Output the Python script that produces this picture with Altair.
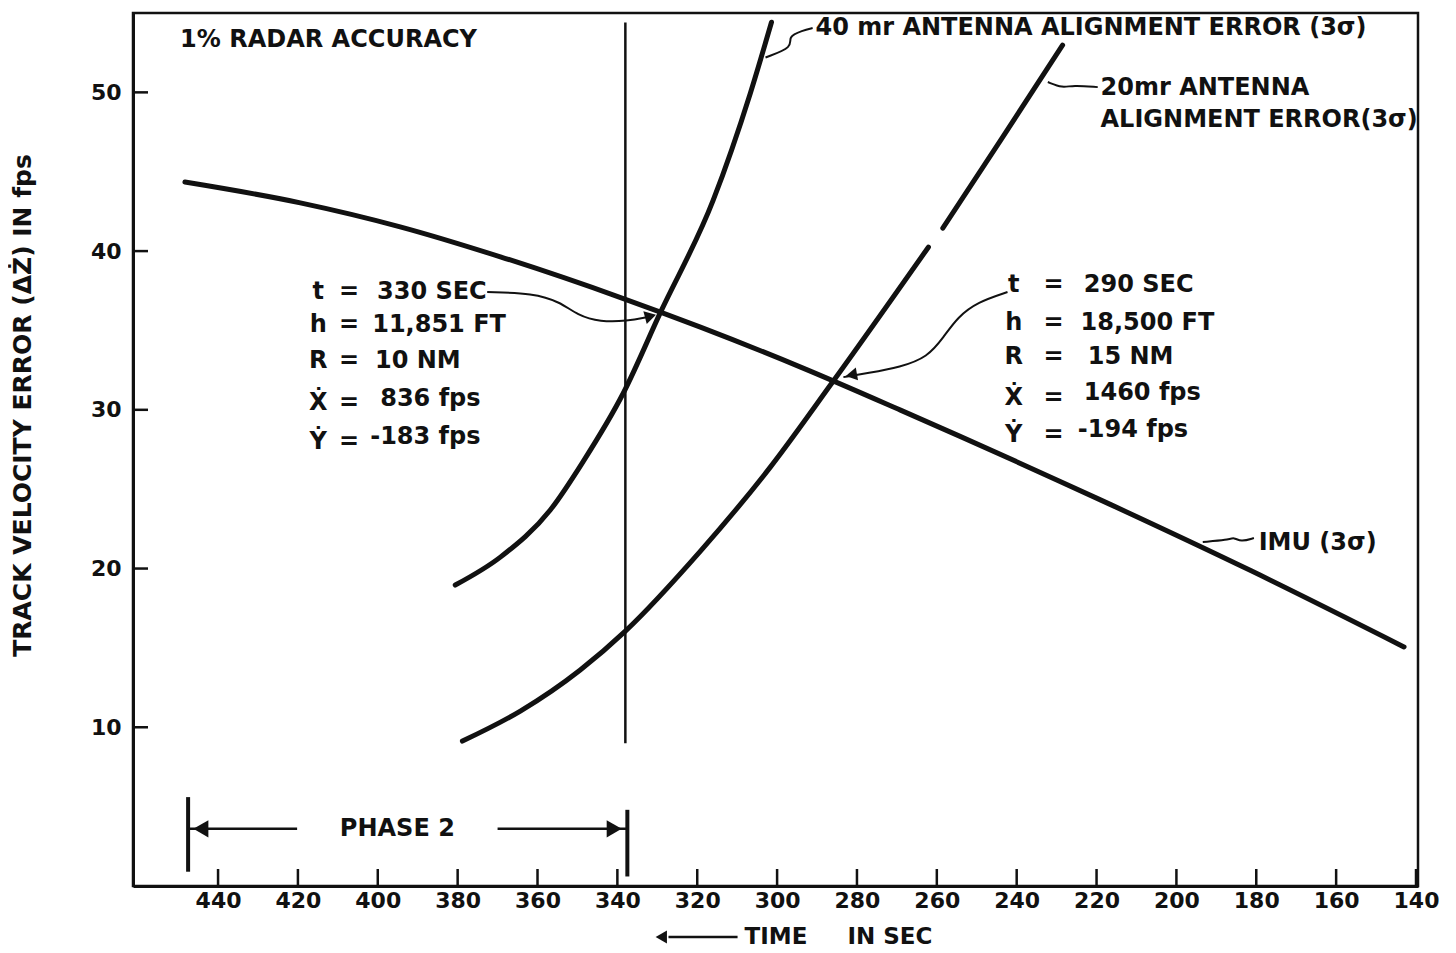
import altair as alt
import pandas as pd

FONT = "DejaVu Sans"
INK = "#111111"

# ---------------- data ----------------
# IMU (3 sigma) curve: time (s), track velocity error (fps)
imu_t = [448.3, 419.4, 394.4, 369.3, 338.5, 319.2, 294.1, 269.1, 218.9, 181.4, 143.0]
imu_v = [44.35, 43.04, 41.53, 39.64, 37.01, 35.21, 32.69, 29.98, 24.31, 19.87, 15.06]

# 40 mr antenna alignment error (3 sigma)
a40_t = [380.6, 369.3, 356.8, 348.5, 338.5, 329.3, 316.0, 306.7, 301.4]
a40_v = [18.96, 20.72, 23.69, 26.77, 31.06, 36.09, 43.21, 49.95, 54.42]

# 20 mr antenna alignment error (3 sigma) - drawn with a small break
a20a_t = [378.8, 364.3, 349.3, 338.0, 319.2, 301.7, 286.1, 262.1]
a20a_v = [9.13, 11.02, 13.61, 16.06, 21.10, 26.39, 31.75, 40.25]
a20b_t = [258.5, 244.0, 228.5]
a20b_v = [41.45, 46.99, 52.98]

# end of phase 2 marker line
marker_t = [338.0]
marker_v = [9.0]
marker_v2 = [54.4]

# axis ticks
x_ticks = [440, 420, 400, 380, 360, 340, 320, 300, 280, 260, 240, 220, 200, 180, 160, 140]
y_ticks = [10, 20, 30, 40, 50]

# phase 2 bracket
phase_bar_t = [447.5, 337.5]
phase_bar_v = [0.9, 0.6]
phase_bar_v2 = [5.6, 4.8]
phase_shaft_t = [447.5, 370.0]
phase_shaft_t2 = [420.2, 337.5]
phase_shaft_v = [3.6, 3.6]

# leader lines (label -> curve)
lead_330_t = [372.6, 361.1, 354.3, 350.0, 344.3, 337.5, 332.5]
lead_330_v = [37.42, 37.35, 36.79, 35.97, 35.53, 35.59, 35.84]
lead_290_t = [242.3, 249.8, 254.8, 258.3, 262.3, 269.1, 277.3, 283.4]
lead_290_v = [37.42, 36.79, 35.84, 34.58, 33.32, 32.69, 32.31, 32.06]
lead_40_t = [302.9, 295.9, 297.4, 293.6, 291.1]
lead_40_v = [52.2, 52.85, 53.5, 53.9, 54.05]
lead_20_t = [232.2, 228.5, 226.0, 219.7]
lead_20_v = [50.65, 50.27, 50.46, 50.33]
lead_imu_t = [193.4, 187.1, 185.6, 183.9, 180.6]
lead_imu_v = [21.67, 21.8, 21.98, 21.67, 21.92]

# arrow heads
head_t = [444.3, 340.8, 331.7, 281.4]
head_v = [3.6, 3.6, 35.9, 32.2]
head_shape = ["triangle-left", "triangle-right", "triangle-right", "triangle-left"]
head_angle = [0, 0, 345, 350]
head_size = [300, 300, 170, 170]

# left-aligned labels
lab_text = ["1% RADAR ACCURACY", "40 mr  ANTENNA ALIGNMENT ERROR (3σ)",
            "20mr ANTENNA", "ALIGNMENT ERROR(3σ)", "IMU (3σ)",
            "330 SEC", "11,851 FT", "10 NM", "836 fps", "-183 fps",
            "290 SEC", "18,500 FT", "15 NM", "1460 fps", "-194 fps"]
lab_t = [449.5, 290.4, 219.0, 219.0, 179.4,
         400.2, 401.4, 400.7, 399.4, 401.9,
         223.2, 224.0, 222.2, 223.2, 224.7]
lab_v = [53.3, 54.05, 50.27, 48.25, 21.6,
         37.42, 35.34, 33.1, 30.7, 28.3,
         37.86, 35.46, 33.32, 31.06, 28.72]

# centred labels
cen_text = ["t", "h", "R", "Ẋ", "Ẏ", "=", "=", "=", "=", "=",
            "t", "h", "R", "Ẋ", "Ẏ", "=", "=", "=", "=", "=", "PHASE 2"]
cen_t = [414.9] * 5 + [407.2] * 5 + [240.75] * 5 + [230.8] * 5 + [395.1]
cen_v = [37.42, 35.34, 33.1, 30.4, 28.0] * 2 + [37.86, 35.46, 33.32, 30.76, 28.42] * 2 + [3.6]

# time-axis arrow
tarrow_t = [327.2]
tarrow_t2 = [309.9]
tarrow_v = [-3.21]
tarrow_head_t = [329.0]

# ---------------- tables ----------------
def seq(name, ts, vs):
    return [dict(series=name, t=a, v=b, ord=i) for i, (a, b) in enumerate(zip(ts, vs))]

curves = pd.DataFrame(seq("imu", imu_t, imu_v) + seq("a40", a40_t, a40_v)
                      + seq("a20a", a20a_t, a20a_v) + seq("a20b", a20b_t, a20b_v))
leads = pd.DataFrame(seq("l330", lead_330_t, lead_330_v) + seq("l290", lead_290_t, lead_290_v)
                     + seq("l40", lead_40_t, lead_40_v) + seq("l20", lead_20_t, lead_20_v)
                     + seq("limu", lead_imu_t, lead_imu_v))
marker = pd.DataFrame({"t": marker_t, "v": marker_v, "v2": marker_v2})
xt = pd.DataFrame({"t": x_ticks})
yt = pd.DataFrame({"v": y_ticks})
pbar = pd.DataFrame({"t": phase_bar_t, "v": phase_bar_v, "v2": phase_bar_v2})
pshaft = pd.DataFrame({"t": phase_shaft_t, "t2": phase_shaft_t2, "v": phase_shaft_v})
heads = pd.DataFrame({"t": head_t + tarrow_head_t, "v": head_v + tarrow_v,
                      "shape": head_shape + ["triangle-left"], "ang": head_angle + [0],
                      "sz": head_size + [170]})
labs = pd.DataFrame({"t": lab_t, "v": lab_v, "text": lab_text})
cens = pd.DataFrame({"t": cen_t, "v": cen_v, "text": cen_text})
tarrow = pd.DataFrame({"t": tarrow_t, "t2": tarrow_t2, "v": tarrow_v})

xs = alt.Scale(domain=[461.3, 139.5], nice=False, zero=False)
ys = alt.Scale(domain=[0, 55], nice=False, zero=False)

x_axis = alt.Axis(values=x_ticks, ticks=False, grid=False, labelPadding=4,
                  title="TIME\u00a0\u00a0\u00a0\u00a0\u00a0IN\u00a0SEC", titleX=705, titleY=50,
                  titleBaseline="middle", titleAlign="center", titleFontSize=23)
y_axis = alt.Axis(values=y_ticks, ticks=False, grid=False, labelPadding=12,
                  title="TRACK VELOCITY ERROR (ΔŻ) IN fps", titleAngle=270,
                  titleX=-111, titleY=392, titleAlign="center", titleBaseline="middle",
                  titleFontSize=25)

X = lambda: alt.X("t:Q", scale=xs, axis=x_axis)
Y = lambda: alt.Y("v:Q", scale=ys, axis=y_axis)

W, H = 1285, 873

base = alt.Chart(curves).mark_line(color=INK, strokeWidth=5, interpolate="monotone",
                                    strokeCap="round").encode(
    x=X(), y=Y(), detail="series:N", order="ord:Q")

marker_l = alt.Chart(marker).mark_rule(color=INK, strokeWidth=2.5).encode(
    x=X(), y=Y(), y2="v2:Q")

xtick_l = alt.Chart(xt).mark_rule(color=INK, strokeWidth=2.5).encode(
    x=X(), y=alt.value(H), y2=alt.value(H - 17))
ytick_l = alt.Chart(yt).mark_rule(color=INK, strokeWidth=2.5).encode(
    y=Y(), x=alt.value(0), x2=alt.value(15))

pbar_l = alt.Chart(pbar).mark_rule(color=INK, strokeWidth=4).encode(x=X(), y=Y(), y2="v2:Q")
pshaft_l = alt.Chart(pshaft).mark_rule(color=INK, strokeWidth=2.5).encode(x=X(), x2="t2:Q", y=Y())
tarrow_l = alt.Chart(tarrow).mark_rule(color=INK, strokeWidth=2.5).encode(x=X(), x2="t2:Q", y=Y())

lead_l = alt.Chart(leads).mark_line(color=INK, strokeWidth=2, interpolate="basis").encode(
    x=X(), y=Y(), detail="series:N", order="ord:Q")

head_l = alt.Chart(heads).mark_point(filled=True, color=INK, opacity=1).encode(
    x=X(), y=Y(), shape=alt.Shape("shape:N", scale=None, legend=None),
    angle=alt.Angle("ang:Q", scale=None), size=alt.Size("sz:Q", scale=None, legend=None))

lab_l = alt.Chart(labs).mark_text(align="left", baseline="middle", font=FONT, fontSize=24,
                                  fontWeight="bold", color=INK).encode(x=X(), y=Y(), text="text:N")
cen_l = alt.Chart(cens).mark_text(align="center", baseline="middle", font=FONT, fontSize=24,
                                  fontWeight="bold", color=INK).encode(x=X(), y=Y(), text="text:N")

chart = alt.layer(base, marker_l, xtick_l, ytick_l, pbar_l, pshaft_l, tarrow_l,
                  lead_l, head_l, lab_l, cen_l).properties(
    width=W, height=H,
    autosize=alt.AutoSizeParams(type="none"),
    padding={"left": 125, "top": 5, "right": 25, "bottom": 66},
    background="white",
).configure_view(stroke=INK, strokeWidth=2.5).configure_axis(
    domainColor=INK, domainWidth=3, labelFont=FONT, labelFontSize=22, labelFontWeight="bold",
    labelColor=INK, titleFont=FONT, titleFontWeight="bold", titleColor=INK,
    labelOverlap=False)

chart.save("out.html", embed_options={"renderer": "svg", "actions": False})
